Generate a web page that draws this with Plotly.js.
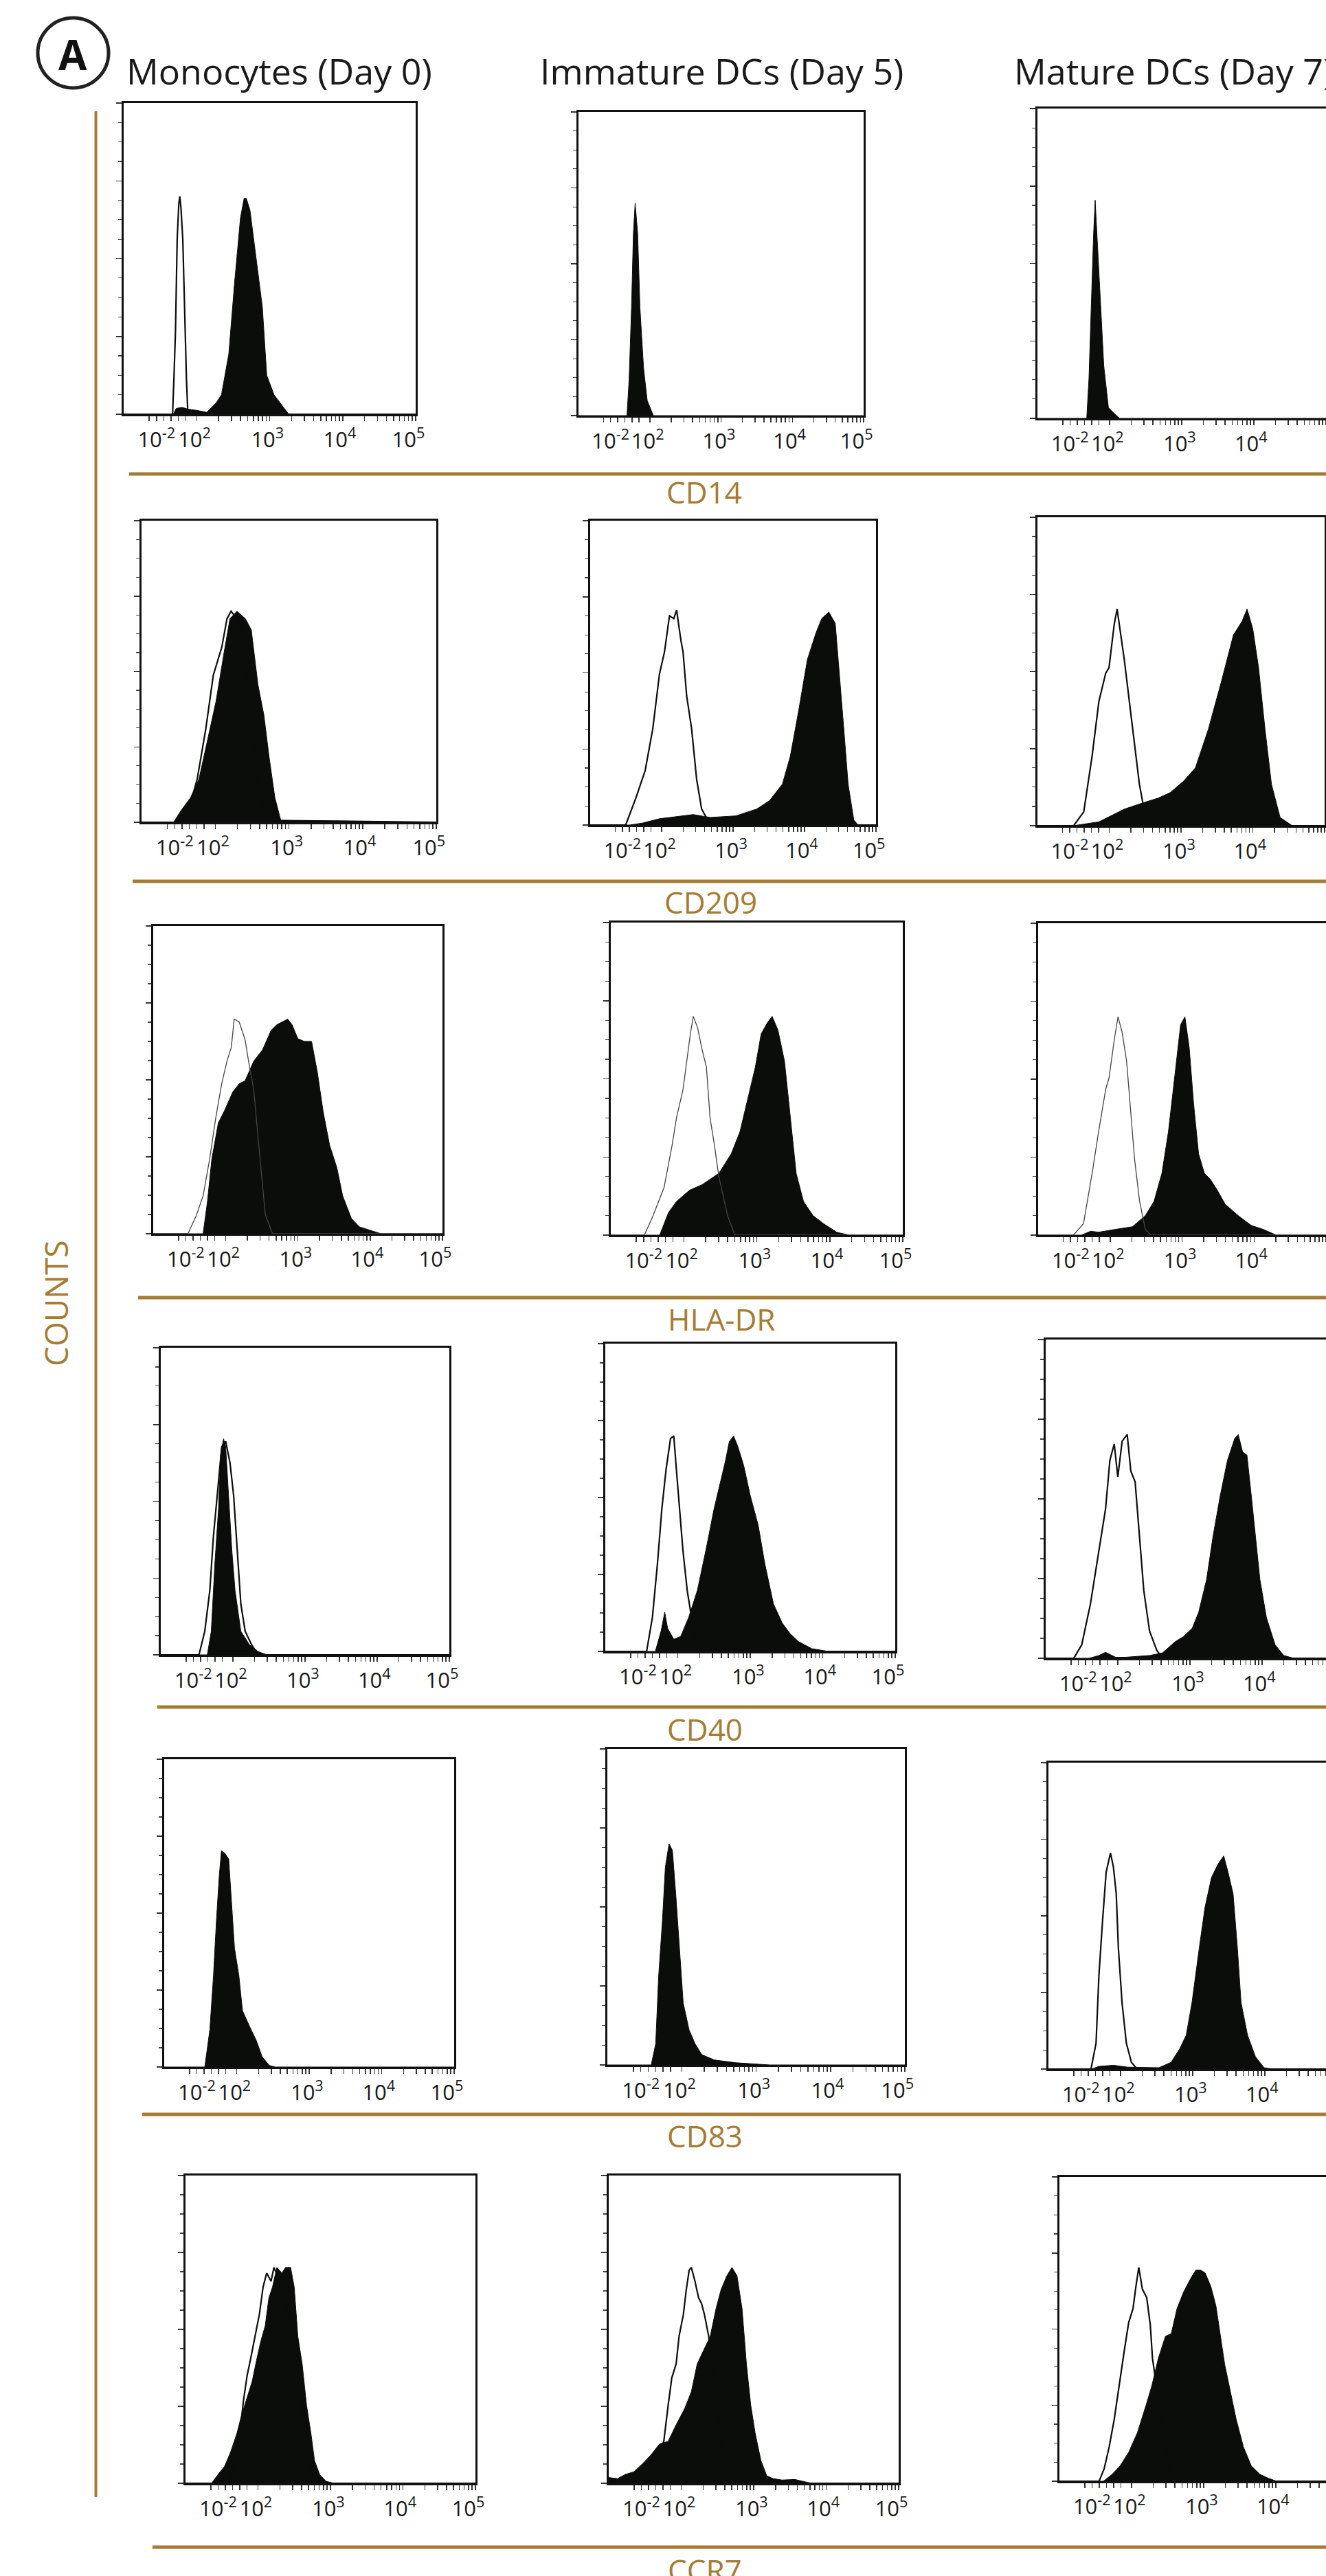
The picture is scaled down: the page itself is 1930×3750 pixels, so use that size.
<!DOCTYPE html>
<html>
<head>
<meta charset="utf-8">
<script src="https://cdn.plot.ly/plotly-3.0.1.min.js"></script>
<style>
html,body{margin:0;padding:0;background:#fff;}
#chart{width:1930px;height:3750px;}
</style>
</head>
<body>
<div id="chart"></div>
<script>
// ---------- categories & labels ----------
const markers = ['CD14', 'CD209', 'HLA-DR', 'CD40', 'CD83', 'CCR7'];
const stages = ['Monocytes (Day 0)', 'Immature DCs (Day 5)', 'Mature DCs (Day 7)'];
const tickText = ['10<sup>-2</sup>', '10<sup>2</sup>', '10<sup>3</sup>', '10<sup>4</sup>', '10<sup>5</sup>'];
const tickPos = [1.45, 1.97, 2.97, 3.96, 4.9];
const yLabel = 'COUNTS';
const panelLetter = 'A';

// ---------- data (x: display decades, y: relative counts 0-16) ----------
// CD14
const cd14_mono_iso_x = [1.0,1.67,1.69,1.71,1.733,1.755,1.769,1.785,1.81,1.84,1.86,1.88,5.0];
const cd14_mono_iso_y = [0,0,2,4.3,9,10.8,11.2,10.6,9,4.3,1.8,0,0];
const cd14_mono_x = [1.0,1.68,1.72,1.8,1.9,2.0,2.14,2.27,2.34,2.44,2.52,2.60,2.65,2.68,2.73,2.80,2.90,2.96,3.06,3.16,3.26,5.0];
const cd14_mono_y = [0,0,0.3,0.35,0.25,0.2,0.1,0.6,1.0,3.1,6.8,10.1,11.1,11.1,10.5,8.5,5.5,2.0,1.0,0.5,0,0];
const cd14_idc_x = [1.0,1.68,1.71,1.744,1.77,1.795,1.83,1.862,1.913,1.964,2.05,5.0];
const cd14_idc_y = [0,0,1.9,5.7,9.6,11.2,9.6,5.7,2.5,0.8,0,0];
const cd14_mdc_x = [1.0,1.683,1.714,1.756,1.778,1.8,1.825,1.873,1.92,1.984,2.05,2.14,5.0];
const cd14_mdc_y = [0,0,2.05,7.0,9.5,11.27,9.5,5.8,2.7,0.56,0.3,0,0];
// CD209
const cd209_mono_iso_x = [1.0,1.49,1.665,1.756,1.87,1.974,2.09,2.16,2.215,2.35,2.47,2.58,2.70,5.0];
const cd209_mono_iso_y = [0,0,1.0,2.3,4.9,7.8,9.3,10.8,11.2,10.5,6.4,2.0,0.1,0];
const cd209_mono_x = [1.0,1.435,1.55,1.665,1.78,1.894,2.01,2.12,2.2,2.295,2.41,2.49,2.58,2.66,2.73,2.81,2.89,5.0];
const cd209_mono_y = [0,0,0.7,1.3,2.3,4.35,6.4,9.0,10.8,11.2,10.8,10.2,7.3,5.7,3.5,1.3,0.1,0];
const cd209_idc_iso_x = [1.0,1.497,1.64,1.77,1.876,1.97,2.04,2.11,2.17,2.21,2.27,2.30,2.35,2.42,2.49,2.56,2.645,2.7,5.0];
const cd209_idc_iso_y = [0,0,1.42,2.87,5.05,7.95,9.1,11.0,10.85,11.3,9.7,9.1,6.8,5.05,2.4,0.84,0.26,0,0];
const cd209_idc_x = [1.0,1.55,1.73,1.97,2.44,2.68,3.04,3.33,3.51,3.69,3.8,3.92,4.04,4.16,4.24,4.34,4.43,4.49,4.55,4.61,4.69,4.75,5.0];
const cd209_idc_y = [0,0,0.1,0.33,0.55,0.4,0.48,0.84,1.28,2.15,3.6,6.06,8.7,10.1,10.85,11.2,10.6,7.95,5.05,2.15,0.26,0,0];
const cd209_mdc_iso_x = [1.0,1.504,1.645,1.76,1.856,1.95,1.997,2.07,2.11,2.16,2.21,2.28,2.35,2.42,2.47,2.51,2.56,5.0];
const cd209_mdc_iso_y = [0,0,0.72,3.58,6.45,7.9,8.2,10.46,11.24,9.9,8.6,6.45,4.3,2.15,1.15,0.3,0,0];
const cd209_mdc_x = [1.0,1.5,1.856,2.21,2.44,2.68,2.85,3.03,3.2,3.38,3.56,3.73,3.85,3.92,4.0,4.08,4.17,4.26,4.38,4.55,5.0];
const cd209_mdc_y = [0,0,0.2,0.86,1.15,1.43,1.72,2.29,3.0,5.0,7.45,9.9,10.6,11.24,10.2,8.2,5.0,2.15,0.43,0,0];
// HLA-DR
const hladr_mono_iso_x = [1.0,1.48,1.596,1.69,1.78,1.866,1.947,2.02,2.08,2.12,2.19,2.27,2.33,2.39,2.45,2.55,2.65,5.0];
const hladr_mono_iso_y = [0,0,0.95,1.97,3.87,6.05,7.8,8.97,9.7,11.16,11.0,10.1,8.7,7.5,5,1,0,0];
const hladr_mono_x = [1.0,1.69,1.75,1.81,1.9,1.98,2.1,2.19,2.27,2.39,2.51,2.63,2.71,2.78,2.86,2.92,3.0,3.09,3.19,3.27,3.35,3.44,3.54,3.62,3.74,3.85,4.03,4.15,5.0];
const hladr_mono_y = [0,0,1.68,3.87,5.76,6.35,7.37,7.8,7.95,8.97,9.55,10.57,10.87,11.0,11.16,10.87,10.14,10.0,10.0,8.4,6.35,4.6,3.43,1.97,0.8,0.36,0.15,0,0];
const hladr_idc_iso_x = [1.0,1.46,1.58,1.73,1.84,1.9,1.99,2.04,2.09,2.13,2.19,2.25,2.31,2.36,2.42,2.48,2.6,2.7,5.0];
const hladr_idc_iso_y = [0,0,1.0,2.44,4.6,6.0,7.46,8.9,10.3,11.2,10.6,9.5,8.6,6.0,4.6,3.0,1.0,0,0];
const hladr_idc_x = [1.0,1.67,1.79,1.9,2.08,2.25,2.48,2.65,2.77,2.88,2.98,3.06,3.15,3.21,3.29,3.38,3.46,3.54,3.64,3.77,3.92,4.1,4.27,5.0];
const hladr_idc_y = [0,0,1.15,1.72,2.3,2.58,3.16,4.16,5.3,7.03,8.6,10.3,10.9,11.2,10.5,8.9,6.0,3.16,1.72,1.0,0.57,0.14,0,0];
const hladr_mdc_iso_x = [1.0,1.49,1.63,1.75,1.84,1.94,1.985,2.06,2.11,2.17,2.23,2.29,2.34,2.41,2.49,2.57,5.0];
const hladr_mdc_iso_y = [0,0,0.58,3.17,5.3,7.5,8.06,10.07,11.2,10.36,8.9,6.04,3.9,1.73,0.29,0,0];
const hladr_mdc_x = [1.0,1.6,1.73,1.84,2.08,2.31,2.49,2.61,2.72,2.81,2.9,2.98,3.04,3.1,3.16,3.23,3.31,3.39,3.49,3.6,3.78,3.96,4.13,4.31,5.0];
const hladr_mdc_y = [0,0,0.2,0.15,0.3,0.43,1.0,1.73,3.17,5.3,8.2,10.8,11.2,9.6,6.76,4.17,3.17,2.88,2.3,1.58,1.0,0.5,0.29,0,0];
// CD40
const cd40_mono_iso_x = [1.0,1.53,1.61,1.68,1.73,1.79,1.845,1.9,1.96,2.01,2.06,2.11,2.17,2.26,2.35,5.0];
const cd40_mono_iso_y = [0,0,1.23,3.35,6.18,8.72,10.84,11.12,10.0,8.3,5.47,2.64,1.23,0.52,0,0];
const cd40_mono_x = [1.0,1.645,1.7,1.75,1.8,1.83,1.87,1.9,1.94,1.985,2.03,2.11,2.23,2.35,2.47,5.0];
const cd40_mono_y = [0,0,1.23,4.76,7.6,10.4,11.26,10.84,8.3,5.47,3.35,1.23,0.52,0.17,0,0];
const cd40_idc_iso_x = [1.0,1.57,1.65,1.72,1.78,1.84,1.9,1.945,1.98,2.01,2.07,2.13,2.19,2.25,2.33,5.0];
const cd40_idc_iso_y = [0,0,1.76,4.58,7.4,9.5,11.07,11.2,9.5,8.1,5.3,3.17,1.76,0.63,0,0];
const cd40_idc_x = [1.0,1.69,1.77,1.82,1.86,1.945,2.04,2.15,2.27,2.39,2.5,2.59,2.66,2.71,2.77,2.83,2.91,3.0,3.11,3.2,3.32,3.44,3.55,3.67,3.85,4.08,5.0];
const cd40_idc_y = [0,0,1.06,2.04,1.2,0.63,0.78,1.76,3.17,5.3,7.4,8.8,9.94,10.9,11.2,10.64,9.66,8.1,6.55,4.58,2.47,1.48,0.92,0.5,0.14,0,0];
const cd40_mdc_iso_x = [1.0,1.39,1.5,1.62,1.74,1.83,1.89,1.95,2.0,2.06,2.13,2.18,2.24,2.3,2.36,2.44,2.54,2.62,5.0];
const cd40_mdc_iso_y = [0,0,0.68,2.72,5.45,7.5,9.94,10.76,9.1,10.9,11.23,9.4,8.85,6.1,3.4,1.36,0.4,0,0];
const cd40_mdc_x = [1.0,1.6,1.74,1.83,1.97,2.1,2.44,2.62,2.79,2.91,3.03,3.12,3.23,3.32,3.42,3.52,3.62,3.67,3.73,3.79,3.85,3.91,3.97,4.06,4.18,4.3,4.44,5.0];
const cd40_mdc_y = [0,0,0.14,0.3,0.05,0.05,0.14,0.27,0.82,1.09,1.5,2.3,3.95,6.13,8.17,9.94,11.03,11.23,10.35,10.2,8.17,6.13,3.95,2.04,0.68,0.14,0,0];
// CD83
const cd83_mono_x = [1.0,1.56,1.63,1.68,1.72,1.76,1.79,1.84,1.89,1.92,1.97,2.03,2.08,2.18,2.27,2.35,2.45,2.53,5.0];
const cd83_mono_y = [0,0,1.95,4.76,7.58,9.98,11.25,11.1,10.8,9.0,6.17,4.76,2.93,2.09,1.38,0.54,0.08,0,0];
const cd83_idc_x = [1.0,1.59,1.65,1.69,1.74,1.78,1.83,1.875,1.92,1.97,2.02,2.1,2.18,2.27,2.44,2.73,3.18,5.0];
const cd83_idc_y = [0,0,1.07,4.52,7.28,10.03,11.2,10.86,8.65,5.9,3.14,1.76,1.07,0.52,0.25,0.11,0,0];
const cd83_mdc_iso_x = [1.0,1.59,1.66,1.7,1.75,1.8,1.86,1.9,1.94,1.97,2.02,2.08,2.15,2.23,5.0];
const cd83_mdc_iso_y = [0,0,1.35,4.9,7.73,10.28,11.28,10.57,9.15,6.3,3.48,1.35,0.35,0,0];
const cd83_mdc_x = [1.0,1.6,1.7,1.9,2.1,2.53,2.7,2.82,2.91,2.99,3.09,3.17,3.26,3.35,3.43,3.49,3.56,3.62,3.67,3.76,3.87,3.99,4.1,5.0];
const cd83_mdc_y = [0,0,0.14,0.2,0.1,0.07,0.35,1.06,1.77,3.48,6.3,8.44,10.0,10.7,11.13,10.28,9.15,6.3,3.48,1.77,0.64,0.07,0,0];
// CCR7
const ccr7_mono_iso_x = [1.0,1.6,1.68,1.75,1.8,1.85,1.9,1.96,2.02,2.07,2.12,2.18,2.22,2.3,2.4,2.5,2.65,2.75,5.0];
const ccr7_mono_iso_y = [0,0,1.0,2.6,4.3,5.6,6.5,7.6,8.8,10.2,10.93,10.5,11.22,10.5,9,8,3,0,0];
const ccr7_mono_x = [1.0,1.36,1.45,1.54,1.62,1.71,1.77,1.84,1.92,1.98,2.04,2.1,2.15,2.2,2.26,2.33,2.38,2.45,2.5,2.55,2.61,2.67,2.73,2.78,2.85,2.94,3.05,5.0];
const ccr7_mono_y = [0,0,0.46,0.89,1.6,2.6,3.5,4.3,5.3,6.4,7.4,8.2,9.64,10.2,11.22,10.93,11.22,11.22,10.2,7.63,6.2,4.05,2.61,1.18,0.46,0.1,0,0];
const ccr7_idc_iso_x = [1.0,1.5,1.64,1.76,1.82,1.87,1.93,1.97,2.03,2.07,2.11,2.14,2.19,2.24,2.28,2.32,2.38,2.5,2.6,5.0];
const ccr7_idc_iso_y = [0,0,1.18,2.18,4.05,5.48,6.2,7.63,8.78,10.07,11.08,11.22,10.5,9.64,9.35,8.78,7.63,4,0,0];
const ccr7_idc_x = [1.0,1.12,1.23,1.35,1.47,1.58,1.7,1.82,1.93,2.05,2.14,2.22,2.31,2.4,2.48,2.55,2.63,2.7,2.77,2.84,2.9,2.96,3.02,3.1,3.18,3.27,3.39,3.57,3.68,3.8,5.0];
const ccr7_idc_y = [0.3,0.24,0.46,0.6,1.03,1.46,2.04,2.18,3.04,3.9,4.76,6.2,6.92,7.63,9.07,10.07,10.79,11.22,10.79,9.07,6.2,4.05,2.61,1.18,0.39,0.24,0.17,0.2,0.1,0,0];
const ccr7_mdc_iso_x = [1.0,1.55,1.62,1.69,1.76,1.84,1.9,1.96,2.02,2.06,2.1,2.15,2.21,2.26,2.29,2.34,2.37,2.45,2.55,5.0];
const ccr7_mdc_iso_y = [0,0,0.65,1.81,3.26,5.44,6.89,8.34,9.07,10.23,11.24,10.1,9.65,8.2,6.45,5.15,4.71,2.5,0,0];
const ccr7_mdc_x = [1.0,1.61,1.73,1.84,1.96,2.08,2.2,2.28,2.37,2.47,2.55,2.63,2.72,2.82,2.89,2.96,3.02,3.1,3.17,3.23,3.29,3.37,3.45,3.55,3.66,3.78,3.9,4.01,5.0];
const ccr7_mdc_y = [0,0,0.36,0.8,1.52,2.54,3.99,5.0,6.45,7.62,7.76,9.07,9.94,10.66,11.1,11.1,10.95,10.23,9.21,7.62,6.16,4.71,3.26,1.81,0.8,0.36,0.15,0,0];

// ---------- panel table (built from the arrays above) ----------
const panels = [
  [[cd14_mono_x,cd14_mono_y,cd14_mono_iso_x,cd14_mono_iso_y],[cd14_idc_x,cd14_idc_y,null,null],[cd14_mdc_x,cd14_mdc_y,null,null]],
  [[cd209_mono_x,cd209_mono_y,cd209_mono_iso_x,cd209_mono_iso_y],[cd209_idc_x,cd209_idc_y,cd209_idc_iso_x,cd209_idc_iso_y],[cd209_mdc_x,cd209_mdc_y,cd209_mdc_iso_x,cd209_mdc_iso_y]],
  [[hladr_mono_x,hladr_mono_y,hladr_mono_iso_x,hladr_mono_iso_y],[hladr_idc_x,hladr_idc_y,hladr_idc_iso_x,hladr_idc_iso_y],[hladr_mdc_x,hladr_mdc_y,hladr_mdc_iso_x,hladr_mdc_iso_y]],
  [[cd40_mono_x,cd40_mono_y,cd40_mono_iso_x,cd40_mono_iso_y],[cd40_idc_x,cd40_idc_y,cd40_idc_iso_x,cd40_idc_iso_y],[cd40_mdc_x,cd40_mdc_y,cd40_mdc_iso_x,cd40_mdc_iso_y]],
  [[cd83_mono_x,cd83_mono_y,null,null],[cd83_idc_x,cd83_idc_y,null,null],[cd83_mdc_x,cd83_mdc_y,cd83_mdc_iso_x,cd83_mdc_iso_y]],
  [[ccr7_mono_x,ccr7_mono_y,ccr7_mono_iso_x,ccr7_mono_iso_y],[ccr7_idc_x,ccr7_idc_y,ccr7_idc_iso_x,ccr7_idc_iso_y],[ccr7_mdc_x,ccr7_mdc_y,ccr7_mdc_iso_x,ccr7_mdc_iso_y]]
];

// ---------- geometry (pixels: left, right, top, bottom) ----------
const W = 1930, H = 3750;
const boxes = [
  [[180,605,150,603],[842,1257,163,605],[1510,1930,158,609]],
  [[206,635,758,1197],[859,1275,758,1201],[1510,1928,753,1202]],
  [[223,644,1348,1796],[889,1314,1343,1798],[1511,1930,1344,1798]],
  [[234,654,1962,2409],[881,1303,1956,2404],[1522,1930,1950,2414]],
  [[239,661,2561,3009],[884,1317,2546,3006],[1526,1930,2566,3012]],
  [[270,692,3167,3615],[886,1308,3167,3615],[1542,1930,3169,3612]]
];
const goldLines = [[188,690],[193,1283],[201,1889],[229,2485],[207,3078],[222,3708]];
const markerLabelPos = [[1025,716],[1034,1313],[1050,1920],[1026,2517],[1026,3109],[1026,3741]];
const GOLD = '#A67B32';
const INK = '#0b0d0b';
const FONT = 'Open Sans, Liberation Sans, sans-serif';

const minorX = [];
[1.35,1.45,1.55,1.65,1.75,1.85].forEach(v => minorX.push(v));
for (let d = 2; d <= 4; d++) for (let k = 1; k <= 9; k++) minorX.push(d + Math.log10(k));
minorX.push(5);
const yMajor = [0,4,8,12,16];
const yMinor = []; for (let i = 0; i <= 16; i++) yMinor.push(i);

const traces = [];
const layout = {
  width: W, height: H, margin: {l:0, r:0, t:0, b:0},
  paper_bgcolor: '#fff', plot_bgcolor: '#fff', showlegend: false,
  font: {family: FONT, color: '#1a1a1a'},
  shapes: [], annotations: []
};
const px = v => v / W;
const py = v => 1 - v / H;

for (let r = 0; r < 6; r++) {
  for (let c = 0; c < 3; c++) {
    const i = r * 3 + c + 1;
    const sfx = i === 1 ? '' : String(i);
    const [L, R, T, B] = boxes[r][c];
    let xEnd = 5;
    if (c === 2) { xEnd = 1 + 4 * (R - L) / 420; if (xEnd > 4.97) xEnd = 5; }
    const [sx, sy, ix, iy] = panels[r][c];
    traces.push({
      type: 'scatter', mode: 'lines', x: sx, y: sy, xaxis: 'x' + sfx, yaxis: 'y' + sfx,
      fill: 'tozeroy', fillcolor: INK, line: {color: INK, width: 1}, hoverinfo: 'skip'
    });
    if (ix) {
      traces.push({
        type: 'scatter', mode: 'lines', x: ix, y: iy, xaxis: 'x' + sfx, yaxis: 'y' + sfx,
        line: {color: r === 2 ? '#444' : INK, width: r === 2 ? 1.3 : 2.2}, hoverinfo: 'skip'
      });
    }
    layout['xaxis' + sfx] = {
      domain: [px(L), px(R)], range: [1, xEnd], anchor: 'y' + sfx,
      showgrid: false, zeroline: false, showline: true, linecolor: '#111', linewidth: 3, mirror: true,
      tickmode: 'array', tickvals: tickPos, ticktext: tickText, ticks: '', tickangle: 0,
      tickfont: {family: FONT, size: 31, color: '#1a1a1a'}, ticklabelstandoff: 8,
      minor: {tickmode: 'array', tickvals: minorX, ticks: 'outside', ticklen: 7, tickwidth: 1.5, tickcolor: '#333', showgrid: false},
      fixedrange: true
    };
    layout['yaxis' + sfx] = {
      domain: [py(B), py(T)], range: [0, 16], anchor: 'x' + sfx,
      showgrid: false, zeroline: false, showline: true, linecolor: '#111', linewidth: 3,
      mirror: (c < 2 || r === 1),
      tickmode: 'array', tickvals: yMajor, ticks: 'outside', ticklen: 8, tickwidth: 1.5, tickcolor: '#333',
      showticklabels: false,
      minor: {tickmode: 'array', tickvals: yMinor, ticks: 'outside', ticklen: 5, tickwidth: 1.2, tickcolor: '#444', showgrid: false},
      fixedrange: true
    };
  }
  // gold separator and marker name
  layout.shapes.push({type: 'line', xref: 'paper', yref: 'paper', x0: px(goldLines[r][0]), x1: 1, y0: py(goldLines[r][1]), y1: py(goldLines[r][1]), line: {color: GOLD, width: 5}});
  layout.annotations.push({xref: 'paper', yref: 'paper', x: px(markerLabelPos[r][0]), y: py(markerLabelPos[r][1]), text: markers[r], showarrow: false, xanchor: 'center', yanchor: 'middle', font: {family: FONT, size: 44, color: GOLD}});
}

// vertical gold line and COUNTS
layout.shapes.push({type: 'line', xref: 'paper', yref: 'paper', x0: px(139.5), x1: px(139.5), y0: py(162), y1: py(3635), line: {color: GOLD, width: 4}});
layout.annotations.push({xref: 'paper', yref: 'paper', x: px(81), y: py(1898), text: yLabel, textangle: -90, showarrow: false, xanchor: 'center', yanchor: 'middle', font: {family: FONT, size: 46, color: GOLD}});

// column titles
layout.annotations.push({xref: 'paper', yref: 'paper', x: px(406), y: py(103), text: stages[0], showarrow: false, xanchor: 'center', yanchor: 'middle', font: {family: FONT, size: 52, color: '#1a1a1a'}});
layout.annotations.push({xref: 'paper', yref: 'paper', x: px(1050), y: py(103), text: stages[1], showarrow: false, xanchor: 'center', yanchor: 'middle', font: {family: FONT, size: 52, color: '#1a1a1a'}});
layout.annotations.push({xref: 'paper', yref: 'paper', x: px(1474), y: py(103), text: stages[2], showarrow: false, xanchor: 'left', yanchor: 'middle', font: {family: FONT, size: 52, color: '#1a1a1a'}});

// panel letter in circle
layout.shapes.push({type: 'circle', xref: 'paper', yref: 'paper', x0: px(55), x1: px(158), y0: py(128), y1: py(26), line: {color: '#222', width: 5}});
layout.annotations.push({xref: 'paper', yref: 'paper', x: px(106), y: py(79), text: '<b>' + panelLetter + '</b>', showarrow: false, xanchor: 'center', yanchor: 'middle', font: {family: FONT, size: 60, color: '#111'}});

Plotly.newPlot('chart', traces, layout, {staticPlot: true, displayModeBar: false});
</script>
</body>
</html>
